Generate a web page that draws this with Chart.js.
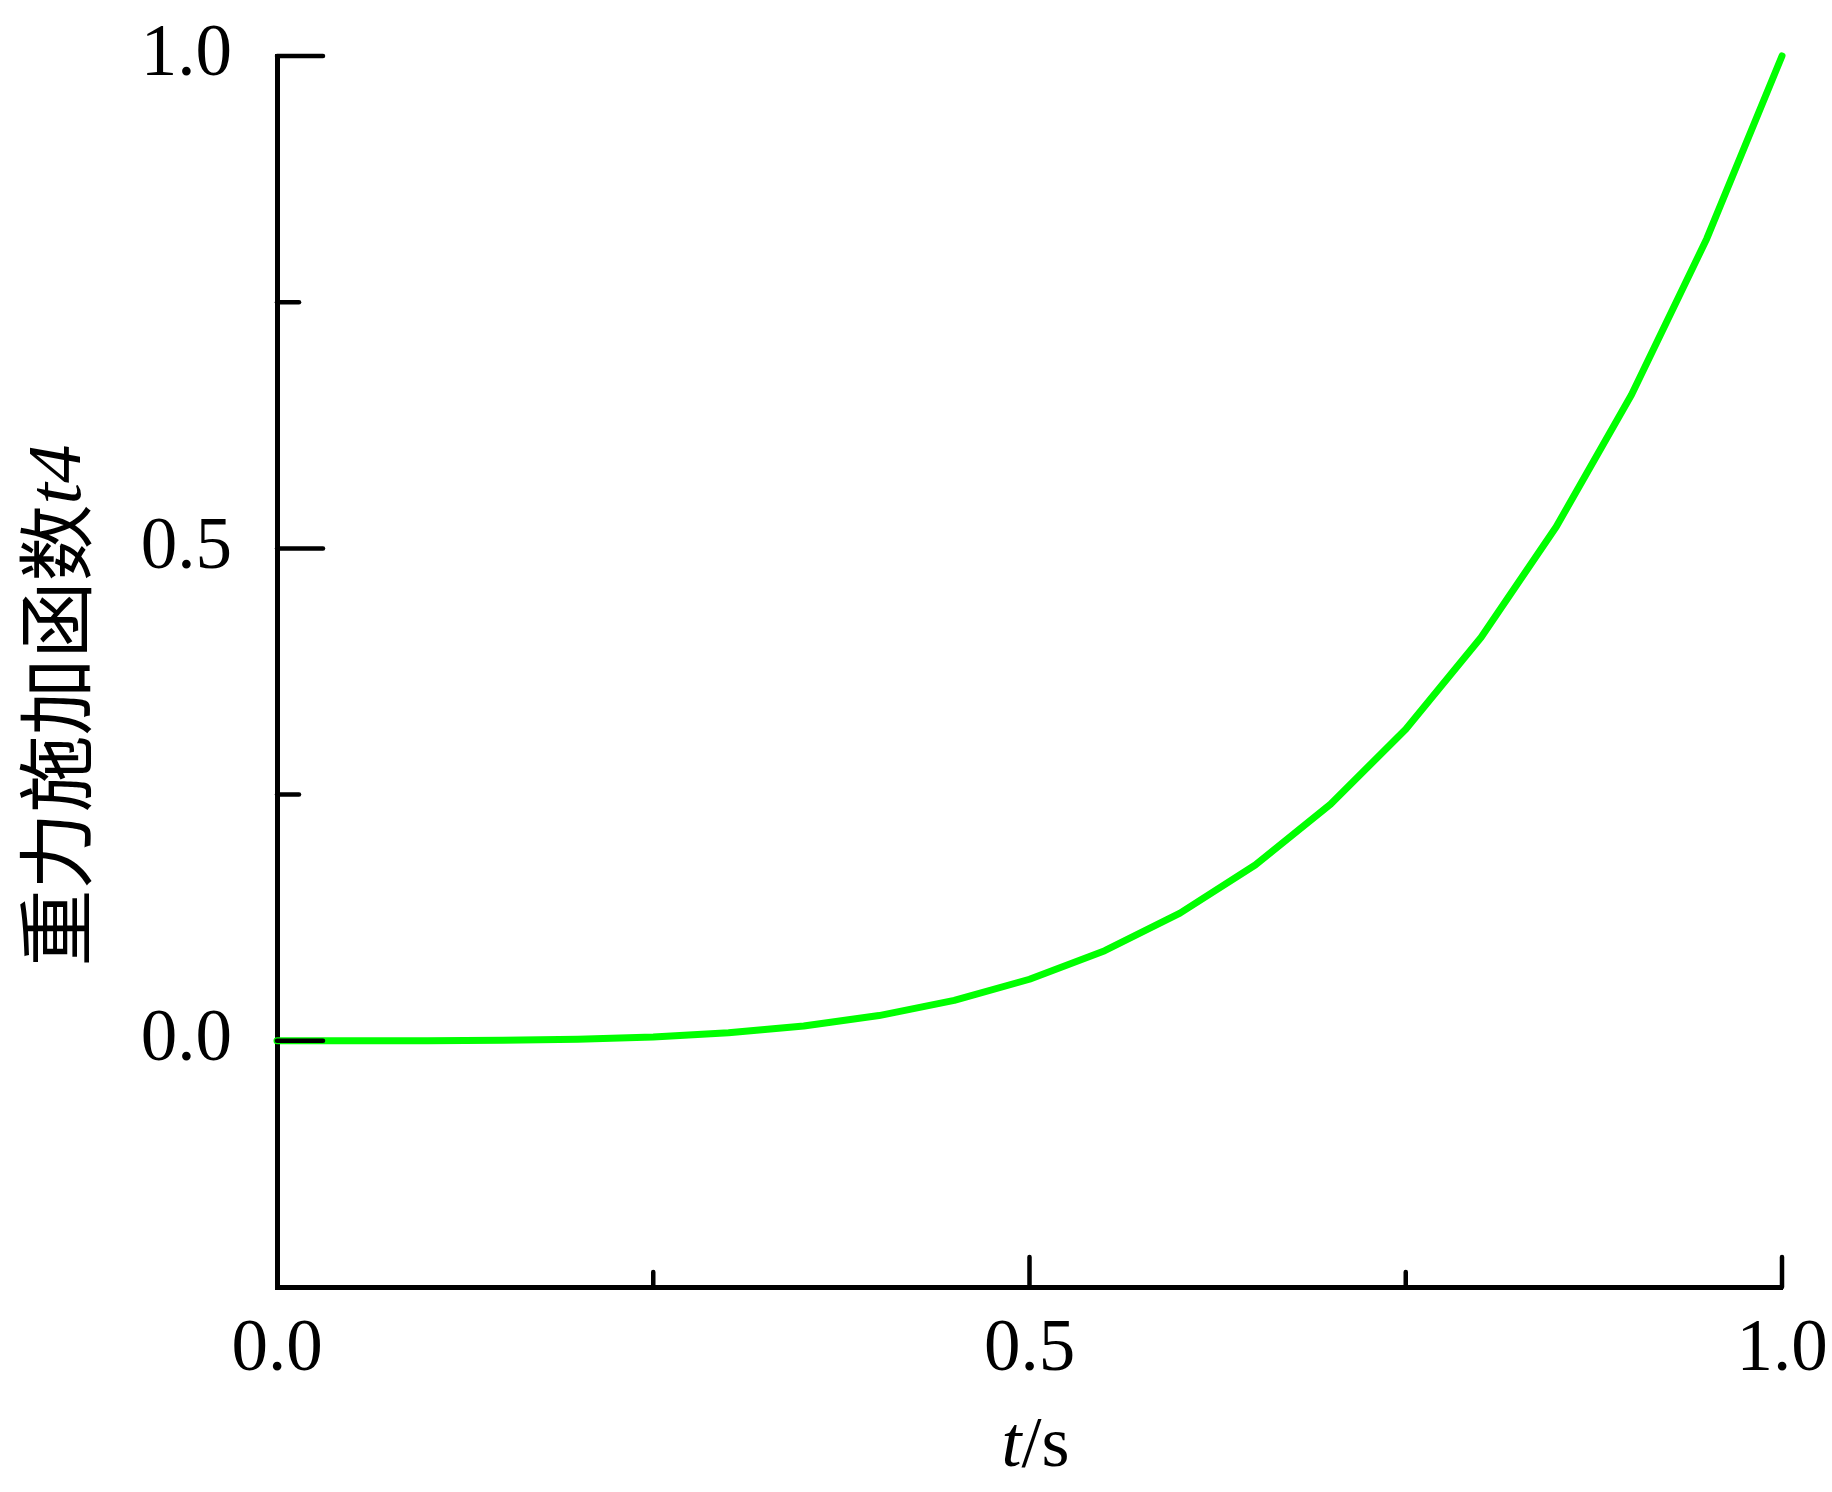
<!DOCTYPE html>
<html>
<head>
<meta charset="utf-8">
<script src="https://cdn.jsdelivr.net/npm/chart.js@4.4.0/dist/chart.umd.min.js"></script>
<style>
html, body { margin: 0; padding: 0; background: #fff; }
#wrap { width: 1832px; height: 1492px; }
</style>
</head>
<body>
<div id="wrap"><canvas id="chart" width="1832" height="1492"></canvas></div>
<script>
// data, every 0.05 s
const timeValues = [0, 0.05, 0.10, 0.15, 0.20, 0.25, 0.30, 0.35, 0.40, 0.45, 0.50,
    0.55, 0.60, 0.65, 0.70, 0.75, 0.80, 0.85, 0.90, 0.95, 1.00];
const forceValues = [0, 0.0000, 0.0001, 0.0005, 0.0016, 0.0039, 0.0081, 0.0150, 0.0256, 0.0410, 0.0625,
    0.0915, 0.1296, 0.1785, 0.2401, 0.3164, 0.4096, 0.5220, 0.6561, 0.8145, 1.0000];

const xLabelTicks = [0, 0.5, 1.0];
const yLabelTicks = [0, 0.5, 1.0];
const xMajorTicks = [0.5, 1.0];
const xMinorTicks = [0.25, 0.75];
const yMajorTicks = [0, 0.5, 1.0];
const yMinorTicks = [0.25, 0.75];
const xTitle = ['t', '/s'];
const yTitle = ['重力施加函数', 't4'];

const serif = "'Liberation Serif', 'Times New Roman', serif";
const cjk = "'Noto Sans CJK SC', sans-serif";

// ticks point inward, drawn over the curve
const innerTicks = {
    id: 'innerTicks',
    afterDatasetsDraw(chart) {
        const ctx = chart.ctx;
        const x = chart.scales.x;
        const y = chart.scales.y;
        ctx.save();
        ctx.strokeStyle = '#000';
        ctx.lineWidth = 4.5;
        ctx.lineCap = 'round';
        const yTick = (v, len) => {
            let p = y.getPixelForValue(v);
            ctx.beginPath(); ctx.moveTo(y.right, p); ctx.lineTo(y.right + len, p); ctx.stroke();
        };
        const xTick = (v, len) => {
            let p = x.getPixelForValue(v);
            ctx.beginPath(); ctx.moveTo(p, x.top); ctx.lineTo(p, x.top - len); ctx.stroke();
        };
        yMajorTicks.forEach(v => yTick(v, 46));
        yMinorTicks.forEach(v => yTick(v, 22));
        xMajorTicks.forEach(v => xTick(v, 30));
        xMinorTicks.forEach(v => xTick(v, 15));
        ctx.restore();
    },
    afterDraw(chart) {
        const ctx = chart.ctx;
        const area = chart.chartArea;
        ctx.save();
        ctx.fillStyle = '#000';
        // x title: italic t + /s
        ctx.textBaseline = 'alphabetic';
        ctx.font = 'italic 72px ' + serif;
        let w1 = ctx.measureText(xTitle[0]).width;
        ctx.font = '72px ' + serif;
        let w2 = ctx.measureText(xTitle[1]).width;
        let cx = (area.left + area.right) / 2 + 6;
        let sx = cx - (w1 + w2) / 2;
        ctx.font = 'italic 72px ' + serif;
        ctx.fillText(xTitle[0], sx, 1466);
        ctx.font = '72px ' + serif;
        ctx.fillText(xTitle[1], sx + w1, 1466);

        // y title, rotated
        ctx.translate(56, (area.top + area.bottom) / 2 + 34);
        ctx.rotate(-Math.PI / 2);
        ctx.textBaseline = 'middle';
        ctx.font = '77px ' + cjk;
        let a = ctx.measureText(yTitle[0]).width;
        ctx.font = 'italic 77px ' + serif;
        let b = ctx.measureText(yTitle[1]).width;
        let s = -(a + b) / 2;
        ctx.font = '77px ' + cjk;
        ctx.fillText(yTitle[0], s, 0);
        ctx.font = 'italic 77px ' + serif;
        ctx.fillText(yTitle[1], s + a, 4);
        ctx.restore();
    }
};

const ctx = document.getElementById('chart').getContext('2d');
const myChart = new Chart(ctx, {
    type: 'line',
    data: {
        datasets: [{
            data: timeValues.map((t, i) => ({ x: t, y: forceValues[i] })),
            borderColor: '#00ff00',
            borderWidth: 7,
            pointRadius: 0,
            tension: 0,
            fill: false,
            borderCapStyle: 'round',
            borderJoinStyle: 'round',
            clip: false
        }]
    },
    options: {
        responsive: false,
        animation: false,
        devicePixelRatio: 1,
        layout: { padding: { top: 56, right: 50, left: 0, bottom: 0 } },
        plugins: { legend: { display: false }, tooltip: { enabled: false } },
        scales: {
            x: {
                type: 'linear',
                min: 0,
                max: 1,
                afterBuildTicks: s => { s.ticks = xLabelTicks.map(v => ({ value: v })) },
                afterFit: s => { s.height = 205; s.paddingLeft = 0; s.paddingRight = 0 },
                grid: { display: false, drawTicks: false },
                border: { display: true, color: '#000', width: 5 },
                ticks: {
                    color: '#000',
                    font: { family: serif, size: 73 },
                    padding: 20,
                    maxRotation: 0,
                    autoSkip: false,
                    callback: v => Number(v).toFixed(1)
                }
            },
            y: {
                type: 'linear',
                min: -0.25,
                max: 1,
                afterBuildTicks: s => { s.ticks = yLabelTicks.map(v => ({ value: v })) },
                afterFit: s => { s.width = 277; s.paddingTop = 0; s.paddingBottom = 0 },
                grid: { display: false, drawTicks: false },
                border: { display: true, color: '#000', width: 5 },
                ticks: {
                    color: '#000',
                    font: { family: serif, size: 73 },
                    padding: 45,
                    autoSkip: false,
                    callback: v => Number(v).toFixed(1)
                }
            }
        }
    },
    plugins: [innerTicks]
});
</script>
</body>
</html>
